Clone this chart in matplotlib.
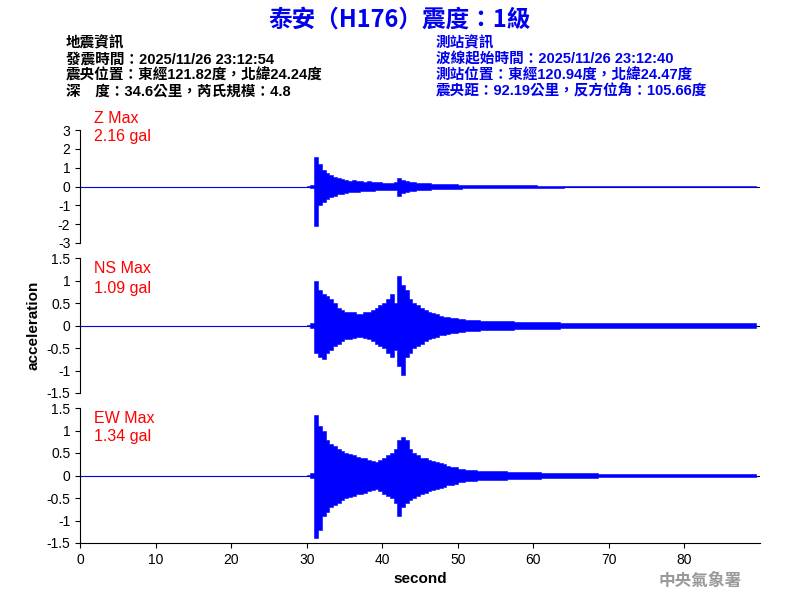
import matplotlib
matplotlib.use("Agg")
import matplotlib.pyplot as plt
import numpy as np

plt.rcParams['font.family'] = ['Liberation Sans', 'Noto Sans CJK TC', 'DejaVu Sans']

title = "泰安（H176）震度：1級"
left_info = ["地震資訊", "發震時間：2025/11/26 23:12:54", "震央位置：東經121.82度，北緯24.24度", "深　度：34.6公里，芮氏規模：4.8"]
right_info = ["測站資訊", "波線起始時間：2025/11/26 23:12:40", "測站位置：東經120.94度，北緯24.47度", "震央距：92.19公里，反方位角：105.66度"]
channels = ["Z", "NS", "EW"]
max_labels = ["2.16 gal", "1.09 gal", "1.34 gal"]

# envelope (peak per 0.5 s bin) from 30.0 s to 89.5 s
t_start = 30.0
z_pos = [0.03,0.08,1.60,1.20,0.90,0.70,0.60,0.50,0.45,0.40,0.35,0.30,0.35,0.30,0.30,0.25,0.30,0.25,0.22,0.25,
         0.20,0.20,0.20,0.25,0.45,0.35,0.30,0.25,0.25,0.20,0.20,0.18,0.18,0.16,0.15,0.15,0.14,0.13,0.12,0.12,
         0.11,0.10,0.10,0.10,0.09,0.09,0.09,0.08,0.08,0.08,0.08,0.07,0.07,0.07,0.07,0.06,0.06,0.06,0.06,0.06,
         0.06,0.05,0.05,0.05,0.05,0.05,0.05,0.05,0.04,0.04,0.04,0.04,0.04,0.04,0.04,0.03,0.03,0.03,0.03,0.03,
         0.03,0.03,0.03,0.02,0.01,0.01,0.01,0.01,0.01,0.01,0.01,0.01,0.01,0.01,0.01,0.01,0.01,0.01,0.01,0.01,
         0.01,0.01,0.01,0.01,0.01,0.01,0.01,0.01,0.01,0.01,0.01,0.01,0.01,0.01,0.01,0.01,0.01,0.01,0.01,0.01]
z_neg = [0.03,0.08,2.10,1.00,0.80,0.65,0.55,0.50,0.40,0.40,0.35,0.30,0.30,0.30,0.25,0.25,0.25,0.22,0.20,0.20,
         0.20,0.20,0.20,0.20,0.50,0.35,0.30,0.25,0.22,0.20,0.20,0.18,0.16,0.15,0.15,0.14,0.13,0.12,0.12,0.11,
         0.11,0.10,0.10,0.10,0.09,0.09,0.09,0.08,0.08,0.08,0.08,0.07,0.07,0.07,0.07,0.06,0.06,0.06,0.06,0.06,
         0.06,0.05,0.05,0.05,0.05,0.05,0.05,0.05,0.04,0.04,0.04,0.04,0.04,0.04,0.04,0.03,0.03,0.03,0.03,0.03,
         0.03,0.03,0.03,0.02,0.01,0.01,0.01,0.01,0.01,0.01,0.01,0.01,0.01,0.01,0.01,0.01,0.01,0.01,0.01,0.01,
         0.01,0.01,0.01,0.01,0.01,0.01,0.01,0.01,0.01,0.01,0.01,0.01,0.01,0.01,0.01,0.01,0.01,0.01,0.01,0.01]
ns_pos = [0.02,0.05,1.00,0.80,0.70,0.65,0.60,0.50,0.40,0.35,0.30,0.30,0.30,0.25,0.25,0.30,0.30,0.35,0.40,0.45,
          0.50,0.60,0.70,0.50,1.09,0.90,0.80,0.60,0.50,0.45,0.40,0.35,0.30,0.28,0.25,0.22,0.20,0.18,0.17,0.16,
          0.15,0.14,0.13,0.13,0.12,0.12,0.11,0.11,0.10,0.10,0.10,0.10,0.09,0.09,0.09,0.08,0.08,0.08,0.08,0.08,
          0.08,0.07,0.07,0.07,0.07,0.07,0.07,0.06,0.06,0.06,0.06,0.06,0.06,0.06,0.06,0.06,0.05,0.05,0.05,0.05,
          0.05,0.05,0.05,0.05,0.05,0.05,0.05,0.05,0.05,0.05,0.05,0.05,0.05,0.05,0.05,0.05,0.05,0.05,0.05,0.05,
          0.05,0.05,0.05,0.05,0.05,0.05,0.05,0.05,0.05,0.05,0.05,0.05,0.05,0.05,0.05,0.05,0.05,0.05,0.05,0.05]
ns_neg = [0.02,0.05,0.60,0.70,0.75,0.60,0.55,0.45,0.40,0.35,0.30,0.30,0.28,0.25,0.25,0.28,0.30,0.35,0.40,0.45,
          0.50,0.60,0.70,0.55,0.90,1.10,0.70,0.60,0.50,0.45,0.40,0.35,0.30,0.28,0.25,0.22,0.20,0.18,0.17,0.16,
          0.15,0.14,0.13,0.13,0.12,0.12,0.11,0.11,0.10,0.10,0.10,0.10,0.09,0.09,0.09,0.08,0.08,0.08,0.08,0.08,
          0.08,0.07,0.07,0.07,0.07,0.07,0.07,0.06,0.06,0.06,0.06,0.06,0.06,0.06,0.06,0.06,0.05,0.05,0.05,0.05,
          0.05,0.05,0.05,0.05,0.05,0.05,0.05,0.05,0.05,0.05,0.05,0.05,0.05,0.05,0.05,0.05,0.05,0.05,0.05,0.05,
          0.05,0.05,0.05,0.05,0.05,0.05,0.05,0.05,0.05,0.05,0.05,0.05,0.05,0.05,0.05,0.05,0.05,0.05,0.05,0.05]
ew_pos = [0.02,0.05,1.34,1.10,1.00,0.80,0.70,0.65,0.60,0.55,0.50,0.48,0.45,0.42,0.40,0.38,0.35,0.33,0.30,0.35,
          0.40,0.45,0.50,0.60,0.80,0.85,0.80,0.60,0.50,0.45,0.40,0.38,0.35,0.32,0.30,0.28,0.25,0.22,0.20,0.18,
          0.15,0.14,0.13,0.12,0.12,0.11,0.11,0.10,0.10,0.10,0.09,0.09,0.09,0.08,0.08,0.08,0.08,0.07,0.07,0.07,
          0.07,0.07,0.06,0.06,0.06,0.06,0.06,0.06,0.05,0.05,0.05,0.05,0.05,0.05,0.05,0.05,0.05,0.04,0.04,0.04,
          0.04,0.04,0.04,0.04,0.04,0.04,0.04,0.04,0.04,0.04,0.04,0.04,0.04,0.04,0.04,0.04,0.04,0.04,0.04,0.04,
          0.04,0.04,0.04,0.04,0.04,0.04,0.04,0.04,0.04,0.04,0.04,0.04,0.04,0.04,0.04,0.04,0.04,0.04,0.04,0.04]
ew_neg = [0.02,0.05,1.40,1.20,0.90,0.80,0.70,0.65,0.60,0.55,0.50,0.48,0.45,0.42,0.40,0.38,0.35,0.33,0.30,0.35,
          0.40,0.45,0.50,0.60,0.90,0.70,0.60,0.55,0.50,0.45,0.40,0.38,0.35,0.32,0.30,0.28,0.25,0.22,0.20,0.18,
          0.15,0.14,0.13,0.12,0.12,0.11,0.11,0.10,0.10,0.10,0.09,0.09,0.09,0.08,0.08,0.08,0.08,0.07,0.07,0.07,
          0.07,0.07,0.06,0.06,0.06,0.06,0.06,0.06,0.05,0.05,0.05,0.05,0.05,0.05,0.05,0.05,0.05,0.04,0.04,0.04,
          0.04,0.04,0.04,0.04,0.04,0.04,0.04,0.04,0.04,0.04,0.04,0.04,0.04,0.04,0.04,0.04,0.04,0.04,0.04,0.04,
          0.04,0.04,0.04,0.04,0.04,0.04,0.04,0.04,0.04,0.04,0.04,0.04,0.04,0.04,0.04,0.04,0.04,0.04,0.04,0.04]

series = [(z_pos, z_neg), (ns_pos, ns_neg), (ew_pos, ew_neg)]
ylims = [(-3, 3), (-1.5, 1.5), (-1.5, 1.5)]
yticks = [[-3, -2, -1, 0, 1, 2, 3], [-1.5, -1, -0.5, 0, 0.5, 1, 1.5], [-1.5, -1, -0.5, 0, 0.5, 1, 1.5]]
ytick_labels = [["-3", "-2", "-1", "0", "1", "2", "3"],
                ["-1.5", "-1", "-0.5", "0", "0.5", "1", "1.5"],
                ["-1.5", "-1", "-0.5", "0", "0.5", "1", "1.5"]]

fig = plt.figure(figsize=(8, 6), dpi=100)
fig.text(0.5, 0.968, title, ha='center', va='center', color='#0000ee', fontsize=17, fontweight='bold',
         family=['Noto Sans CJK TC', 'DejaVu Sans'])
for i, s in enumerate(left_info):
    fig.text(0.082, 0.927 - i * 0.0265, s, ha='left', va='center', fontsize=10.5, fontweight='bold',
             family=['Liberation Sans', 'Noto Sans CJK TC'])
for i, s in enumerate(right_info):
    fig.text(0.545, 0.927 - i * 0.0265, s, ha='left', va='center', fontsize=10.5, fontweight='bold',
             color='#0000ee', family=['Liberation Sans', 'Noto Sans CJK TC'])

boxes = [(0.595, 0.783), (0.345, 0.570), (0.095, 0.320)]
label_y = [(0.803, 0.772), (0.553, 0.520), (0.303, 0.272)]
for k in range(3):
    bot, top = boxes[k]
    ax = fig.add_axes([0.1, bot, 0.85, top - bot])
    pos, neg = series[k]
    n = len(pos)
    tb = np.concatenate([[0], t_start + 0.5 * np.arange(n)])
    hi = np.concatenate([[0], pos])
    lo = np.concatenate([[0], -np.array(neg)])
    ax.axhline(0, color='black', lw=0.8, zorder=1)
    ax.fill_between(tb, lo, hi, step='post', color='blue', lw=0.4, zorder=2)
    ax.set_xlim(0, 90)
    ax.set_ylim(*ylims[k])
    ax.set_yticks(yticks[k])
    ax.set_yticklabels(ytick_labels[k], fontsize=10)
    for sp in ['top', 'right']:
        ax.spines[sp].set_visible(False)
    if k < 2:
        ax.spines['bottom'].set_visible(False)
        ax.set_xticks([])
    else:
        ax.set_xticks([0, 10, 20, 30, 40, 50, 60, 70, 80])
        ax.tick_params(axis='x', labelsize=10)
        ax.set_xlabel("second", fontsize=11, fontweight='bold')
    if k == 1:
        ax.set_ylabel("acceleration", fontsize=11, fontweight='bold')
    fig.text(0.117, label_y[k][0], channels[k] + " Max", color='red', fontsize=11.5, va='center')
    fig.text(0.117, label_y[k][1], max_labels[k], color='red', fontsize=11.5, va='center')

fig.text(0.875, 0.032, "中央氣象署", ha='center', va='center', color='#999999', fontsize=12, fontweight='bold',
         family=['Noto Sans CJK TC'])
fig.savefig("out.png", dpi=100)
